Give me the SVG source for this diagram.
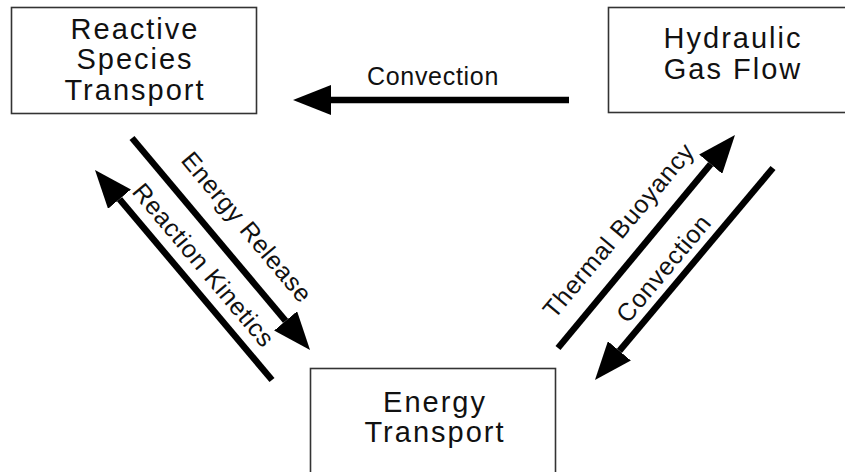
<svg xmlns="http://www.w3.org/2000/svg" width="845" height="472" viewBox="0 0 845 472">
<style>
.box{fill:#fff;stroke:#333;stroke-width:1.6}
.t{font-family:"Liberation Sans",Arial,sans-serif;font-size:29px;letter-spacing:2px;text-anchor:middle;fill:#111}
.l{font-family:"Liberation Sans",Arial,sans-serif;font-size:25px;letter-spacing:0.7px;text-anchor:middle;fill:#111}
.c{stroke:#000;stroke-width:6.5;fill:none;marker-end:url(#ah)}
</style>
<defs>
<marker id="ah" markerUnits="userSpaceOnUse" markerWidth="38" markerHeight="30" viewBox="0 0 38 30" refX="0" refY="15" orient="auto">
<path d="M0,0 L38,15 L0,30 z" fill="#000"/>
</marker>
</defs>
<rect width="845" height="472" fill="#fff"/>
<g id="reactive">
<rect class="box" x="11.5" y="7.5" width="245" height="106"/>
<text class="t" x="135" y="39">Reactive</text>
<text class="t" x="135" y="69">Species</text>
<text class="t" x="135" y="100">Transport</text>
</g>
<g id="hydraulic">
<rect class="box" x="608.5" y="7.5" width="250" height="105"/>
<text class="t" x="733" y="48">Hydraulic</text>
<text class="t" x="733" y="79">Gas Flow</text>
</g>
<g id="energy">
<rect class="box" x="310.5" y="368.5" width="245" height="110"/>
<text class="t" x="435" y="412">Energy</text>
<text class="t" x="435" y="442">Transport</text>
</g>
<g id="connectors">
<line class="c" x1="569" y1="100" x2="331" y2="100"/>
<text class="l" x="433" y="85">Convection</text>
<line class="c" x1="132" y1="138" x2="285.6" y2="320.9"/>
<text class="l" transform="translate(240.2,232.7) rotate(50)">Energy Release</text>
<line class="c" x1="272" y1="380" x2="119.5" y2="199.1"/>
<text class="l" transform="translate(197,270.7) rotate(50)">Reaction Kinetics</text>
<line class="c" x1="558" y1="348" x2="710.7" y2="164.2"/>
<text class="l" transform="translate(625.1,235.9) rotate(-50)">Thermal Buoyancy</text>
<line class="c" x1="773" y1="168" x2="619.4" y2="350.9"/>
<text class="l" transform="translate(670.3,273.9) rotate(-50)">Convection</text>
</g>
</svg>
